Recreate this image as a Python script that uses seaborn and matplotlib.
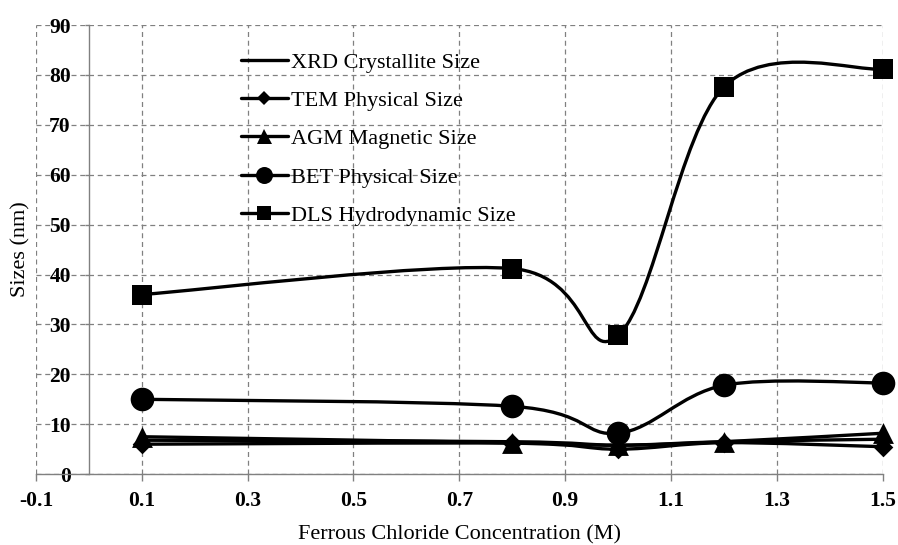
import numpy as np
import pandas as pd
import matplotlib
matplotlib.use("Agg")
import matplotlib.pyplot as plt
import seaborn as sns
from matplotlib.path import Path
from matplotlib.patches import PathPatch
from matplotlib.lines import Line2D

# ---------------- data ----------------
concentration = [0.1, 0.8, 1.0, 1.2, 1.5]
xrd_size = [6.8, 6.5, 5.8, 6.5, 7.0]
tem_size = [6.0, 6.2, 5.0, 6.3, 5.5]
agm_size = [7.5, 6.3, 5.8, 6.5, 8.2]
bet_size = [15.0, 13.6, 8.2, 17.8, 18.3]
dls_size = [36.0, 41.2, 27.8, 77.6, 81.2]
series_names = ["XRD Crystallite Size", "TEM Physical Size", "AGM Magnetic Size",
                "BET Physical Size", "DLS Hydrodynamic Size"]
x_ticks = [-0.1, 0.1, 0.3, 0.5, 0.7, 0.9, 1.1, 1.3, 1.5]
x_tick_labels = ["-0.1", "0.1", "0.3", "0.5", "0.7", "0.9", "1.1", "1.3", "1.5"]
y_ticks = [0, 10, 20, 30, 40, 50, 60, 70, 80, 90]

series_values = [xrd_size, tem_size, agm_size, bet_size, dls_size]
series_markers = [None, "D", "^", "o", "s"]
marker_sizes = [0, 10, 15, 17, 14.5]

rows = []
for name, vals in zip(series_names, series_values):
    for c, v in zip(concentration, vals):
        rows.append({"conc": c, "size": v, "series": name})
df = pd.DataFrame(rows)

sns.set_theme(style="white")
plt.rcParams["font.family"] = ["Liberation Serif", "DejaVu Serif"]
plt.rcParams["axes.unicode_minus"] = False
plt.rcParams["text.color"] = "black"
plt.rcParams["axes.labelcolor"] = "black"
plt.rcParams["xtick.labelcolor"] = "black"
plt.rcParams["ytick.labelcolor"] = "black"

fig = plt.figure(figsize=(8.98, 5.45), dpi=100)
ax = fig.add_axes([0.040, 0.130, 0.943, 0.824])

# spines first (moving a spine resets the ticks)
for s in ["top", "right"]:
    ax.spines[s].set_visible(False)
ax.spines["left"].set_position(("data", 0))
ax.spines["left"].set_color("#808080")
ax.spines["bottom"].set_color("#808080")
ax.spines["left"].set_linewidth(1.0)
ax.spines["bottom"].set_linewidth(1.0)


def smooth_path(xs, ys):
    pts = np.column_stack([xs, ys]).astype(float)
    n = len(pts)
    verts = [pts[0]]
    codes = [Path.MOVETO]
    for i in range(n - 1):
        p0 = pts[max(i - 1, 0)]
        p1 = pts[i]
        p2 = pts[i + 1]
        p3 = pts[min(i + 2, n - 1)]
        c1 = p1 + (p2 - p0) / 6.0
        c2 = p2 - (p3 - p1) / 6.0
        verts += [c1, c2, p2]
        codes += [Path.CURVE4] * 3
    return Path(verts, codes)


LW = 2.4
for name, mk, ms in zip(series_names, series_markers, marker_sizes):
    sub = df[df["series"] == name]
    patch = PathPatch(smooth_path(sub["conc"].values, sub["size"].values),
                      facecolor="none", edgecolor="black", lw=LW, zorder=3,
                      transform=ax.transData, clip_on=False)
    ax.add_patch(patch)
    if mk is not None:
        sns.scatterplot(data=sub, x="conc", y="size", marker=mk, s=ms ** 2,
                        color="black", edgecolor="black", linewidth=0,
                        legend=False, ax=ax, zorder=4, clip_on=False)

ax.set_xlim(-0.1, 1.5)
ax.set_ylim(0, 90)
ax.set_xticks(x_ticks)
ax.set_xticklabels(x_tick_labels, fontweight="bold", fontsize=15.5)
ax.set_yticks(y_ticks)
ax.set_yticklabels([str(t) for t in y_ticks], fontweight="bold", fontsize=15.5)

ax.set_axisbelow(True)
ax.grid(True, linestyle=(0, (4, 3)), color="#808080", linewidth=0.9)

ax.tick_params(axis="y", direction="out", length=3, width=1, color="#808080", pad=10, left=True)
ax.tick_params(axis="x", direction="out", length=5, width=1, color="#808080", pad=7, bottom=True)

ax.set_xlabel("Ferrous Chloride Concentration (M)", fontsize=16, labelpad=10.5)
ax.set_ylabel("Sizes (nm)", fontsize=16)
ax.yaxis.set_label_coords(-0.006, 0.5)

handles = []
for mk, ms in zip(series_markers, marker_sizes):
    handles.append(Line2D([], [], color="black", lw=LW,
                          marker=mk if mk else None,
                          markersize=ms * 0.72 if mk else 0,
                          markeredgewidth=0))
ax.legend(handles, series_names, loc="upper left", bbox_to_anchor=(0.242, 0.94),
          frameon=False, fontsize=16, handlelength=2.1, handletextpad=0.15,
          labelspacing=0.8, borderpad=0, borderaxespad=0)

fig.savefig("out.png", dpi=100)
